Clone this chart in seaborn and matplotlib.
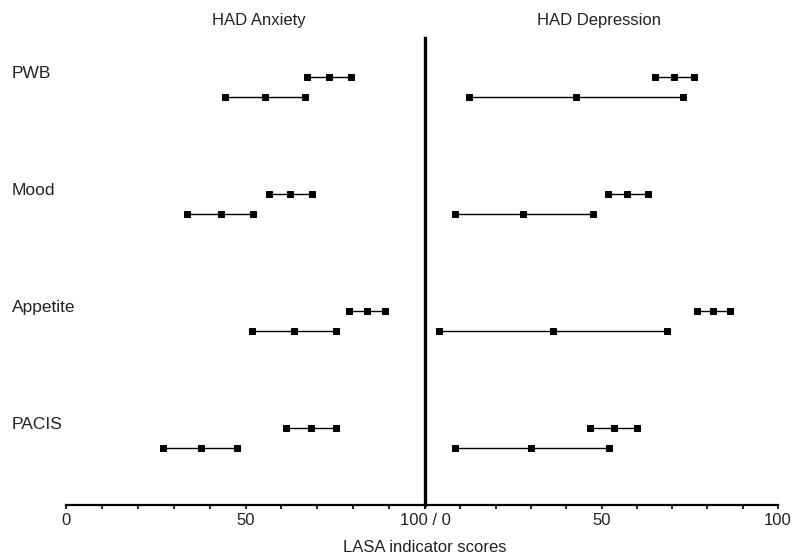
import numpy as np
import pandas as pd
import matplotlib
matplotlib.use('Agg')
import matplotlib.pyplot as plt
import matplotlib.transforms as mtransforms
import seaborn as sns

# LASA indicator scores (low / mid / high of each row)
categories = ['PWB', 'Mood', 'Appetite', 'PACIS']
panels = ['HAD Anxiety', 'HAD Depression']

anx_upper = [[67.1, 73.3, 79.4], [56.5, 62.4, 68.5], [78.8, 83.8, 88.9], [61.3, 68.2, 75.2]]
anx_lower = [[44.3, 55.4, 66.6], [33.7, 43.2, 52.1], [51.8, 63.5, 75.2], [27.0, 37.6, 47.6]]
dep_upper = [[65.2, 70.5, 76.2], [51.8, 57.2, 63.2], [77.1, 81.6, 86.4], [46.7, 53.5, 60.1]]
dep_lower = [[12.5, 42.8, 73.1], [8.5, 27.8, 47.6], [4.0, 36.3, 68.6], [8.5, 30.0, 52.1]]

xticks = [0, 10, 20, 30, 40, 50, 60, 70, 80, 90, 100]


def make_frame(upper, lower):
    rows = []
    for i, cat in enumerate(categories):
        for v in upper[i]:
            rows.append({'cat': cat, 'row': cat + '_u', 'pos': i, 'value': v})
        for v in lower[i]:
            rows.append({'cat': cat, 'row': cat + '_l', 'pos': i + 0.17, 'value': v})
    return pd.DataFrame(rows)


sns.set_style("white")
plt.rcParams['font.family'] = ['Liberation Sans', 'DejaVu Sans']
fs = 12

fig = plt.figure(figsize=(7.97, 5.58), dpi=100)
ax_l = fig.add_axes([66 / 797, 1 - 505 / 558, 359 / 797, 467 / 558])
ax_r = fig.add_axes([425 / 797, 1 - 505 / 558, 353 / 797, 467 / 558])

for ax, up, lo in [(ax_l, anx_upper, anx_lower), (ax_r, dep_upper, dep_lower)]:
    df = make_frame(up, lo)
    sns.lineplot(data=df, x='value', y='pos', units='row', estimator=None,
                 color='black', marker='s', markersize=5, markeredgecolor='black',
                 linewidth=1, sort=False, ax=ax, legend=False)
    ax.set_xlim(0, 100)
    ax.set_ylim(3.66, -0.333)
    ax.set_xlabel('')
    ax.set_ylabel('')
    ax.set_yticks([])
    ax.set_xticks(xticks)
    for s in ['top', 'left', 'right']:
        ax.spines[s].set_visible(False)
    ax.spines['bottom'].set_linewidth(1.6)
    ax.spines['bottom'].set_color('black')
    ax.tick_params(axis='x', direction='out', length=3, width=1.2, color='black',
                   labelsize=fs, pad=3, bottom=True, labelcolor='#222222')
    ax.patch.set_alpha(0)

ax_l.set_xticklabels(['0', '', '', '', '', '50', '', '', '', '', '100 / 0'])
ax_r.set_xticklabels(['', '', '', '', '', '50', '', '', '', '', '100'])
ax_l.spines['right'].set_visible(True)
ax_l.spines['right'].set_linewidth(2.4)
ax_l.spines['right'].set_color('black')

trans = mtransforms.blended_transform_factory(fig.transFigure, ax_l.transData)
for i, cat in enumerate(categories):
    ax_l.text(12 / 797, i - 0.03, cat, transform=trans, fontsize=12.5,
              ha='left', va='center', color='#222222')

fig.text(259 / 797, 1 - 21 / 558, panels[0], fontsize=fs, ha='center', va='center', color='#222222')
fig.text(599 / 797, 1 - 21 / 558, panels[1], fontsize=fs, ha='center', va='center', color='#222222')
fig.text(425 / 797, 1 - 548 / 558, 'LASA indicator scores', fontsize=fs, ha='center', va='center', color='#222222')

plt.savefig('out.png', dpi=100)
